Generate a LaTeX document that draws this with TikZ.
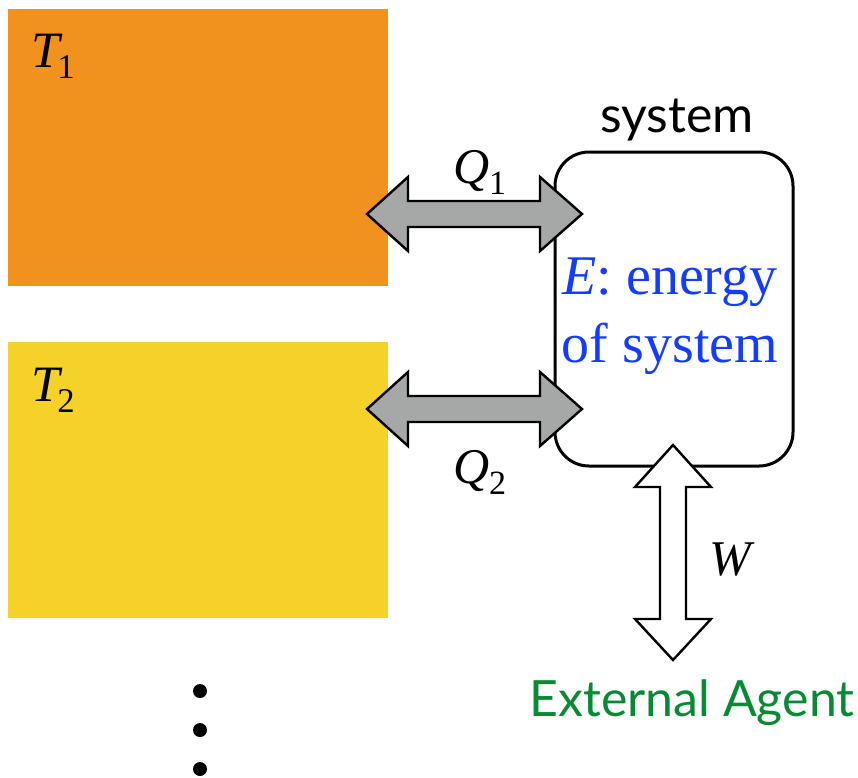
\documentclass[tikz,border=0pt]{standalone}
\usepackage{fontspec}
\setmainfont{LiberationSerif}[Extension=.ttf,UprightFont=*-Regular,ItalicFont=*-Italic,BoldFont=*-Bold]
\newfontfamily\tms{LiberationSerif}[Extension=.ttf,UprightFont=*-Regular,ItalicFont=*-Italic,BoldFont=*-Bold]
\newfontfamily\gill{Lato}
\definecolor{orng}{RGB}{242,146,30}
\definecolor{yllw}{RGB}{245,210,42}
\definecolor{arrgray}{RGB}{165,168,166}
\definecolor{eblue}{RGB}{20,60,255}
\definecolor{agreen}{RGB}{8,138,52}
\newcommand{\symsub}[4]{\tms\fontsize{#3}{#3}\selectfont\textit{#1}\kern#4\raisebox{-0.22em}{\fontsize{0.68\dimexpr#3\relax}{1pt}\selectfont #2}}
\begin{document}
\begin{tikzpicture}[x=1pt,y=-1pt,
  lbl/.style={inner sep=0pt,anchor=base},
  harrow/.style={draw=black,line width=2.4pt,fill=arrgray,line join=miter},
  warrow/.style={draw=black,line width=2.4pt,fill=white,line join=miter},
  dotstyle/.style={circle,fill=black,inner sep=0pt,minimum size=14pt}]
\useasboundingbox (0,0) rectangle (858,777);
% reservoirs
\fill[orng] (8,9) rectangle (388,286);
\fill[yllw] (8,342) rectangle (388,618);
\node[lbl,anchor=base west] (t1) at (31,67) {\symsub{T}{1}{51pt}{-0.1em}};
\node[lbl,anchor=base west] (t2) at (31,401) {\symsub{T}{2}{51pt}{-0.1em}};
% dots
\node[dotstyle] (d1) at (200,691) {};
\node[dotstyle] (d2) at (200,730) {};
\node[dotstyle] (d3) at (200,769) {};
% system box
\draw[line width=3pt,rounded corners=34pt] (555,152) rectangle (793,466);
\node[lbl] (sys) at (677,132) {\gill\fontsize{50pt}{50pt}\selectfont system};
\node[lbl,text=eblue] (e1) at (670,294) {\tms\fontsize{56pt}{56pt}\selectfont\textit{E}: energy};
\node[lbl,text=eblue] (e2) at (670,362) {\tms\fontsize{56pt}{56pt}\selectfont of system};
% heat arrows
\foreach \c in {214,409}{
\draw[harrow] (367,\c) -- (408,\c-37) -- (408,\c-13) -- (540,\c-13) -- (540,\c-37)
  -- (582,\c) -- (540,\c+37) -- (540,\c+13) -- (408,\c+13) -- (408,\c+37) -- cycle;
}
\node[lbl] (q1) at (480,183) {\symsub{Q}{1}{50pt}{-0.02em}};
\node[lbl] (q2) at (480,483) {\symsub{Q}{2}{50pt}{-0.02em}};
% work arrow
\draw[warrow] (673,445) -- (711,487) -- (686,487) -- (686,619) -- (711,619) -- (673,660)
  -- (635,619) -- (660,619) -- (660,487) -- (635,487) -- cycle;
\node[lbl] (w) at (732,575) {\tms\fontsize{50pt}{50pt}\selectfont\textit{W}};
\node[lbl,text=agreen] (ext) at (692,716) {\gill\fontsize{50pt}{50pt}\selectfont External Agent};
\end{tikzpicture}
\end{document}
